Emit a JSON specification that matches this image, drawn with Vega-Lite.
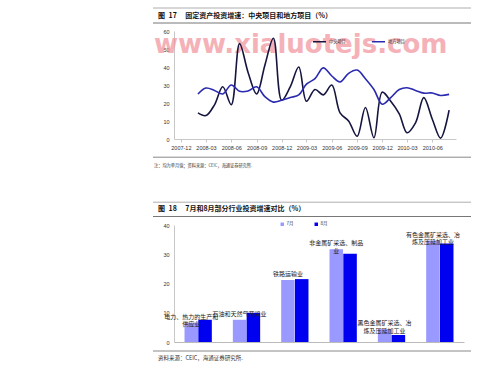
{
 "$schema": "https://vega.github.io/schema/vega-lite/v6.json",
 "background": "white",
 "padding": {"left": 152, "top": 7, "right": 30, "bottom": 0},
 "spacing": 0,
 "bounds": "flush",
 "resolve": {"scale": {"color": "independent"}, "legend": {"color": "independent"}},
 "config": {
  "view": {"stroke": null},
  "font": "Noto Sans CJK SC",
  "axis": {"labelFont": "Liberation Sans", "labelFontSize": 5.5, "labelColor": "#333", "domainColor": "#c8c8c8", "grid": false, "ticks": false, "title": null, "labelOverlap": false}
 },
 "vconcat": [
  {
   "width": 297, "height": 23,
   "data": {"values": [{"label": "图\u200217\u2003 固定资产投资增速：中央项目和地方项目（%）"}]},
   "layer": [
    {"mark": {"type": "rule", "color": "#999", "strokeWidth": 0.8},
     "encoding": {"x": {"datum": -21, "type": "quantitative", "scale": {"domain": [0, 297], "nice": false, "zero": false}, "axis": null}, "x2": {"datum": 297},
      "y": {"datum": 0, "type": "quantitative", "scale": {"domain": [0, 23], "nice": false, "reverse": true}, "axis": null}}},
    {"mark": {"type": "rule", "color": "#777", "strokeWidth": 1},
     "encoding": {"x": {"datum": -21, "type": "quantitative"}, "x2": {"datum": 297}, "y": {"datum": 15, "type": "quantitative"}}},
    {"mark": {"type": "text", "align": "left", "baseline": "middle", "fontSize": 7, "fontWeight": "bold", "color": "#111"},
     "encoding": {"x": {"datum": -16, "type": "quantitative"}, "y": {"datum": 7.7, "type": "quantitative"}, "text": {"field": "label"}}}
   ]
  },
  {
   "width": 282, "height": 108,
   "encoding": {
    "x": {"field": "date", "type": "temporal",
     "scale": {"type": "utc", "nice": false, "domain": [{"year": 2007, "month": 11, "date": 6, "utc": true}, {"year": 2010, "month": 8, "date": 26, "utc": true}]},
     "axis": {"format": "%Y-%m", "ticks": true, "tickSize": 3, "tickColor": "#c8c8c8", "labelPadding": 3, "labelFlush": false, "labelOverlap": false,
      "values": [
       {"year": 2007, "month": 12, "date": 1, "utc": true},
       {"year": 2008, "month": 3, "date": 1, "utc": true},
       {"year": 2008, "month": 6, "date": 1, "utc": true},
       {"year": 2008, "month": 9, "date": 1, "utc": true},
       {"year": 2008, "month": 12, "date": 1, "utc": true},
       {"year": 2009, "month": 3, "date": 1, "utc": true},
       {"year": 2009, "month": 6, "date": 1, "utc": true},
       {"year": 2009, "month": 9, "date": 1, "utc": true},
       {"year": 2009, "month": 12, "date": 1, "utc": true},
       {"year": 2010, "month": 3, "date": 1, "utc": true},
       {"year": 2010, "month": 6, "date": 1, "utc": true}
      ]}},
    "y": {"field": "value", "type": "quantitative", "scale": {"domain": [0, 60], "nice": false},
     "axis": {"values": [0, 10, 20, 30, 40, 50, 60], "labelPadding": 5, "labelOverlap": false}}
   },
   "layer": [
    {
     "data": {"values": [{"text": "www.xialuotejs.com", "date": "2007-08-25", "value": 47.8}]},
     "mark": {"type": "text", "font": "DejaVu Sans", "fontSize": 26, "fontWeight": "bold", "color": "#f2919b", "opacity": 0.7, "align": "left", "baseline": "alphabetic"},
     "encoding": {"text": {"field": "text"}}
    },
    {
     "data": {"values": [
      {"date": "2008-02-01", "series": "中央项目", "value": 14.5},
      {"date": "2008-03-01", "series": "中央项目", "value": 13},
      {"date": "2008-04-01", "series": "中央项目", "value": 19},
      {"date": "2008-05-01", "series": "中央项目", "value": 29},
      {"date": "2008-06-01", "series": "中央项目", "value": 19},
      {"date": "2008-07-01", "series": "中央项目", "value": 53},
      {"date": "2008-08-01", "series": "中央项目", "value": 37},
      {"date": "2008-09-01", "series": "中央项目", "value": 25},
      {"date": "2008-10-01", "series": "中央项目", "value": 41},
      {"date": "2008-11-01", "series": "中央项目", "value": 56},
      {"date": "2008-12-01", "series": "中央项目", "value": 21.5},
      {"date": "2009-01-01", "series": "中央项目", "value": 29},
      {"date": "2009-02-01", "series": "中央项目", "value": 40},
      {"date": "2009-03-01", "series": "中央项目", "value": 21},
      {"date": "2009-04-01", "series": "中央项目", "value": 27.5},
      {"date": "2009-05-01", "series": "中央项目", "value": 24.5},
      {"date": "2009-06-01", "series": "中央项目", "value": 30},
      {"date": "2009-07-01", "series": "中央项目", "value": 14.5},
      {"date": "2009-08-01", "series": "中央项目", "value": 10},
      {"date": "2009-09-01", "series": "中央项目", "value": 1.5},
      {"date": "2009-10-01", "series": "中央项目", "value": 17.5},
      {"date": "2009-11-01", "series": "中央项目", "value": 0.7},
      {"date": "2009-12-01", "series": "中央项目", "value": 26},
      {"date": "2010-01-01", "series": "中央项目", "value": 21},
      {"date": "2010-02-01", "series": "中央项目", "value": 14},
      {"date": "2010-03-01", "series": "中央项目", "value": 3.5},
      {"date": "2010-04-01", "series": "中央项目", "value": 9},
      {"date": "2010-05-01", "series": "中央项目", "value": 23},
      {"date": "2010-06-01", "series": "中央项目", "value": 11},
      {"date": "2010-07-01", "series": "中央项目", "value": 0.5},
      {"date": "2010-08-01", "series": "中央项目", "value": 16},
      {"date": "2008-02-01", "series": "地方项目", "value": 25},
      {"date": "2008-03-01", "series": "地方项目", "value": 28.3},
      {"date": "2008-04-01", "series": "地方项目", "value": 27},
      {"date": "2008-05-01", "series": "地方项目", "value": 25},
      {"date": "2008-06-01", "series": "地方项目", "value": 30},
      {"date": "2008-07-01", "series": "地方项目", "value": 26.5},
      {"date": "2008-08-01", "series": "地方项目", "value": 26.7},
      {"date": "2008-09-01", "series": "地方项目", "value": 29},
      {"date": "2008-10-01", "series": "地方项目", "value": 23.5},
      {"date": "2008-11-01", "series": "地方项目", "value": 20.5},
      {"date": "2008-12-01", "series": "地方项目", "value": 21.5},
      {"date": "2009-01-01", "series": "地方项目", "value": 23},
      {"date": "2009-02-01", "series": "地方项目", "value": 24.5},
      {"date": "2009-03-01", "series": "地方项目", "value": 30.5},
      {"date": "2009-04-01", "series": "地方项目", "value": 33.5},
      {"date": "2009-05-01", "series": "地方项目", "value": 39.5},
      {"date": "2009-06-01", "series": "地方项目", "value": 35},
      {"date": "2009-07-01", "series": "地方项目", "value": 31.7},
      {"date": "2009-08-01", "series": "地方项目", "value": 36.5},
      {"date": "2009-09-01", "series": "地方项目", "value": 38.3},
      {"date": "2009-10-01", "series": "地方项目", "value": 33.5},
      {"date": "2009-11-01", "series": "地方项目", "value": 27.5},
      {"date": "2009-12-01", "series": "地方项目", "value": 19.3},
      {"date": "2010-01-01", "series": "地方项目", "value": 23},
      {"date": "2010-02-01", "series": "地方项目", "value": 27.5},
      {"date": "2010-03-01", "series": "地方项目", "value": 28.5},
      {"date": "2010-04-01", "series": "地方项目", "value": 27},
      {"date": "2010-05-01", "series": "地方项目", "value": 25.5},
      {"date": "2010-06-01", "series": "地方项目", "value": 25.6},
      {"date": "2010-07-01", "series": "地方项目", "value": 24.2},
      {"date": "2010-08-01", "series": "地方项目", "value": 24.8}
     ]},
     "mark": {"type": "line", "interpolate": "catmull-rom", "strokeWidth": 1.6},
     "encoding": {
      "color": {"field": "series", "type": "nominal",
       "scale": {"domain": ["中央项目", "地方项目"], "range": ["#151540", "#2a2ab0"]},
       "legend": {"orient": "none", "legendX": 138, "legendY": 3, "direction": "horizontal", "title": null, "symbolType": "stroke", "symbolSize": 170, "symbolStrokeWidth": 1.5, "labelFontSize": 4.2, "labelFont": "Noto Sans CJK SC", "labelColor": "#333", "labelOffset": 2, "columnPadding": 22}}
     }
    }
   ]
  },
  {
   "width": 297, "height": 85.5,
   "data": {"values": [{"note": "注：均为单月值；资料来源：CEIC，海通证券研究所.", "label": "图\u200218\u2003 7月和8月部分行业投资增速对比（%）"}]},
   "layer": [
    {"mark": {"type": "rule", "color": "#888", "strokeWidth": 1},
     "encoding": {"x": {"datum": -21, "type": "quantitative", "scale": {"domain": [0, 297], "nice": false, "zero": false}, "axis": null}, "x2": {"datum": 297},
      "y": {"datum": 18.2, "type": "quantitative", "scale": {"domain": [0, 85.5], "nice": false, "reverse": true}, "axis": null}}},
    {"mark": {"type": "text", "align": "left", "baseline": "middle", "fontSize": 4.2, "color": "#333"},
     "encoding": {"x": {"datum": -20, "type": "quantitative"}, "y": {"datum": 26.5, "type": "quantitative"}, "text": {"field": "note"}}},
    {"mark": {"type": "rule", "color": "#999", "strokeWidth": 0.8},
     "encoding": {"x": {"datum": -21, "type": "quantitative"}, "x2": {"datum": 297}, "y": {"datum": 63.2, "type": "quantitative"}}},
    {"mark": {"type": "text", "align": "left", "baseline": "middle", "fontSize": 7, "fontWeight": "bold", "color": "#111"},
     "encoding": {"x": {"datum": -16, "type": "quantitative"}, "y": {"datum": 70.3, "type": "quantitative"}, "text": {"field": "label"}}},
    {"mark": {"type": "rule", "color": "#777", "strokeWidth": 1},
     "encoding": {"x": {"datum": -21, "type": "quantitative"}, "x2": {"datum": 297}, "y": {"datum": 77.5, "type": "quantitative"}}}
   ]
  },
  {
   "width": 290, "height": 117,
   "data": {"values": [
    {"industry": "电力、热力的生产和\n供应业", "month": "7月", "growth": 6.6},
    {"industry": "电力、热力的生产和\n供应业", "month": "8月", "growth": 7.6},
    {"industry": "石油和天然气开采业", "month": "7月", "growth": 7.6},
    {"industry": "石油和天然气开采业", "month": "8月", "growth": 10.0},
    {"industry": "铁路运输业", "month": "7月", "growth": 21.2},
    {"industry": "铁路运输业", "month": "8月", "growth": 21.5},
    {"industry": "非金属矿采选、制品\n业", "month": "7月", "growth": 31.7},
    {"industry": "非金属矿采选、制品\n业", "month": "8月", "growth": 30.2},
    {"industry": "黑色金属矿采选、冶\n炼及压延加工业", "month": "7月", "growth": 4.4},
    {"industry": "黑色金属矿采选、冶\n炼及压延加工业", "month": "8月", "growth": 2.4},
    {"industry": "有色金属矿采选、冶\n炼及压延加工业", "month": "7月", "growth": 34.7},
    {"industry": "有色金属矿采选、冶\n炼及压延加工业", "month": "8月", "growth": 33.7}
   ]},
   "encoding": {
    "x": {"field": "industry", "type": "nominal", "sort": null, "scale": {"paddingInner": 0.435, "paddingOuter": 0.2175}, "axis": {"labels": false, "ticks": false, "domain": true, "domainColor": "#bbb"}},
    "xOffset": {"field": "month", "type": "nominal", "scale": {"paddingInner": 0.02}},
    "y": {"field": "growth", "type": "quantitative", "scale": {"domain": [0, 40], "nice": false}, "axis": {"values": [0, 10, 20, 30, 40], "labelPadding": 5, "labelOverlap": false}}
   },
   "layer": [
    {"mark": {"type": "bar"},
     "encoding": {
      "color": {"field": "month", "type": "nominal", "scale": {"domain": ["7月", "8月"], "range": ["#9999ff", "#0000f0"]},
       "legend": {"orient": "none", "legendX": 106, "legendY": -3, "direction": "horizontal", "title": null, "symbolType": "square", "symbolSize": 12, "symbolStrokeWidth": 0, "labelFontSize": 4.5, "labelFont": "Noto Sans CJK SC", "labelColor": "#333", "labelOffset": 2, "columnPadding": 20}}
     }},
    {"transform": [{"filter": "datum.month === '7月'"}],
     "mark": {"type": "text", "baseline": "bottom", "dy": -3, "fontSize": 6, "lineHeight": 7.5, "lineBreak": "\n", "color": "#222"},
     "encoding": {"text": {"field": "industry"}}}
   ]
  },
  {
   "width": 297, "height": 28,
   "data": {"values": [{"note": "资料来源：CEIC，海通证券研究所."}]},
   "layer": [
    {"mark": {"type": "rule", "color": "#888", "strokeWidth": 1},
     "encoding": {"x": {"datum": -21, "type": "quantitative", "scale": {"domain": [0, 297], "nice": false, "zero": false}, "axis": null}, "x2": {"datum": 297},
      "y": {"datum": 9, "type": "quantitative", "scale": {"domain": [0, 28], "nice": false, "reverse": true}, "axis": null}}},
    {"mark": {"type": "text", "align": "left", "baseline": "middle", "fontSize": 5.5, "color": "#333"},
     "encoding": {"x": {"datum": -16, "type": "quantitative"}, "y": {"datum": 15.7, "type": "quantitative"}, "text": {"field": "note"}}}
   ]
  }
 ]
}
